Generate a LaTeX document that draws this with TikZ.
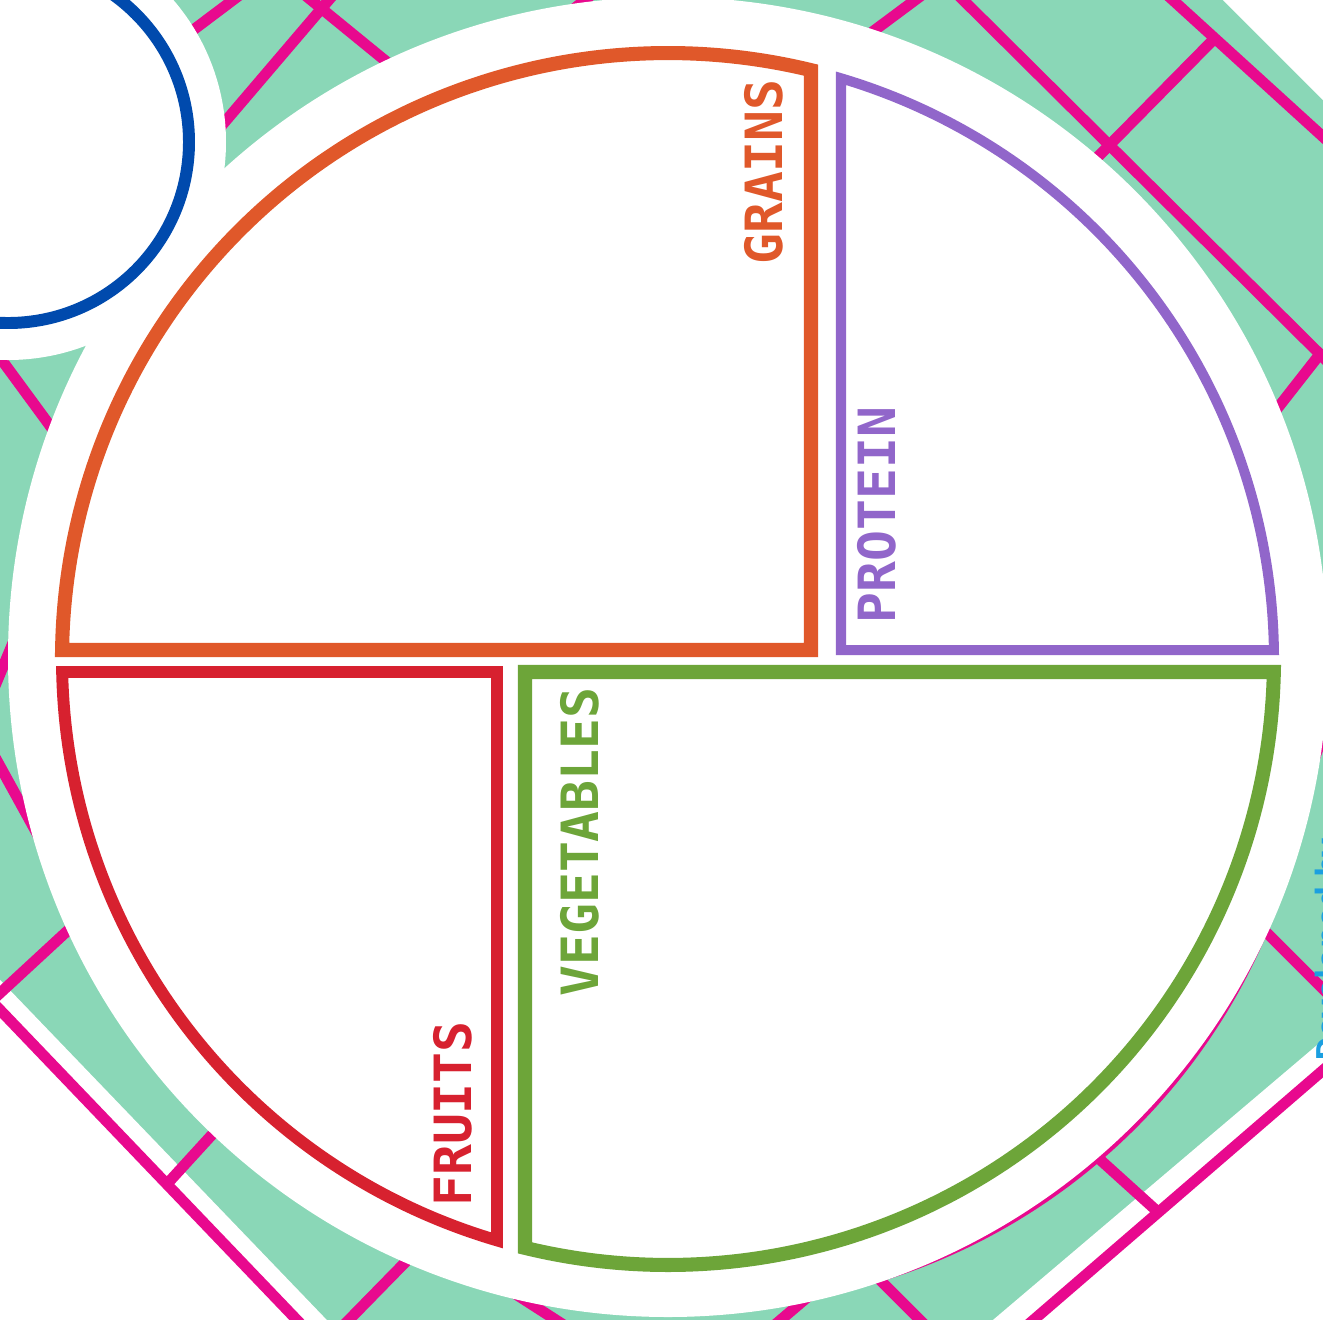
\documentclass[tikz,border=0pt]{standalone}
\usepackage{fontspec}
\newfontfamily\platefont{DejaVu Sans Mono}
\newfontfamily\creditfont{Open Sans}

\definecolor{mint}{HTML}{8AD7B7}
\definecolor{latticepink}{HTML}{E8098E}
\definecolor{grainsorange}{HTML}{E0582A}
\definecolor{proteinpurple}{HTML}{9166CA}
\definecolor{fruitred}{HTML}{D7212F}
\definecolor{veggiegreen}{HTML}{6DA539}
\definecolor{cupblue}{HTML}{004AAD}
\definecolor{creditblue}{HTML}{1B9FE0}

\begin{document}
\begin{tikzpicture}[
    x=0.01cm, y=-0.01cm,
    lattice/.style={
        draw=latticepink,
        line width=3.1pt
    },
    portion/.style={
        fill=white,
        line join=miter,
        miter limit=20
    },
    foodtag/.style={
        rotate=90,
        inner sep=0pt,
        font=\platefont\bfseries\fontsize{14.6}{14.6}\selectfont
    }
]
    \useasboundingbox (0,0) rectangle (1323,1320);

    % --- Background: table cloth ---
    \fill[mint] (-20,-20) rectangle (1343,1340);
    \fill[white] (1203,-20) -- (1343,-20) -- (1343,120) -- cycle;
    \fill[white] (-20,959) -- (348,1342) -- (-20,1342) -- cycle;
    \fill[white] (1343,1023) -- (1343,1342) -- (967,1342) -- cycle;

    % top
    \draw[lattice] (160,55) -- (245,-9);
    \draw[lattice] (200,151) -- (345,-19);
    \draw[lattice] (300,-9) -- (420,89);
    \draw[lattice] (570,12) -- (600,-12);
    \draw[lattice] (840,56) -- (930,-11);
    \draw[lattice] (943,-20) -- (1343,377);
    \draw[lattice] (1153,-18) -- (1343,155);
    \draw[lattice] (1075,180) -- (1215,38);
    \draw[lattice] (1320,354) -- (1255,437);

    % right
    \draw[lattice] (1300,797) -- (1335,703);
    \draw[lattice] (1240,906) -- (1343,1009);
    \draw[lattice] (1343,1053) -- (1008,1342);
    \draw[lattice] (1075,1137) -- (1158,1212);

    % bottom
    \draw[lattice] (855,1255) -- (930,1330);
    \draw[lattice] (830,1278) -- (770,1329);
    \draw[lattice] (500,1284) -- (570,1329);
    \draw[lattice] (430,1237) -- (340,1329);

    % left
    \draw[lattice] (-20,989) -- (318,1342);
    \draw[lattice] (167,1184) -- (230,1115);
    \draw[lattice] (-15,1007) -- (90,910);
    \draw[lattice] (-10,344) -- (70,453);
    \draw[lattice] (-5,686) -- (25,614);
    \draw[lattice] (-10,748) -- (45,848);

    % --- Plate and cup ---
    \fill[latticepink] (701.5,694.2) circle[radius=614];
    \fill[white] (668,657) circle[radius=660];
    \fill[white] (8,142) circle[radius=218];
    \draw[cupblue, line width=3.4pt, fill=white] (8,142) circle[radius=181];

    % --- Food groups ---
    \draw[portion, draw=grainsorange, line width=4pt]
        (811,650) -- ([shift={(668,659)}]180.85:606)
        arc[start angle=180.85, end angle=283.65, radius=606] -- cycle;
    \draw[portion, draw=proteinpurple, line width=2.85pt]
        (841,650) -- ([shift={(668,659)}]286.59:606)
        arc[start angle=286.59, end angle=359.15, radius=606] -- cycle;
    \draw[portion, draw=fruitred, line width=3.4pt]
        (497,672) -- ([shift={(668,659)}]178.77:606)
        arc[start angle=178.77, end angle=106.39, radius=606] -- cycle;
    \draw[portion, draw=veggiegreen, line width=4pt]
        (525,672) -- ([shift={(668,659)}]1.23:606)
        arc[start angle=1.23, end angle=103.65, radius=606] -- cycle;

    \node[foodtag, text=grainsorange] (grainstag) at (764,172) {GRAINS};
    \node[foodtag, text=proteinpurple] (proteintag) at (877,515) {PROTEIN};
    \node[foodtag, text=veggiegreen] (veggietag) at (580,842) {VEGETABLES};
    \node[foodtag, text=fruitred] (fruittag) at (453,1114) {FRUITS};

    \node[rotate=90, text=creditblue, font=\creditfont\bfseries\fontsize{9.5}{9.5}\selectfont]
        (credit) at (1332,950) {Developed by};
\end{tikzpicture}
\end{document}
